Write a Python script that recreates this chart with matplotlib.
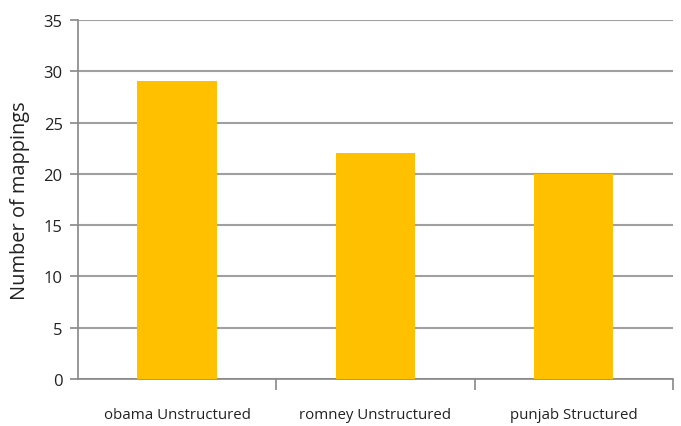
import matplotlib.pyplot as plt
import numpy as np

categories = ["obama Unstructured", "romney Unstructured", "punjab Structured"]
mappings = [29, 22, 20]
y_ticks = [0, 5, 10, 15, 20, 25, 30, 35]

plt.rcParams["font.family"] = ["Open Sans", "DejaVu Sans"]

fig = plt.figure(figsize=(6.81, 4.27), dpi=100)
ax = fig.add_axes([0.1145, 0.110, 0.8735, 0.841])

x = np.arange(len(categories))
ax.bar(x, mappings, width=0.4, color="#FFC000", zorder=3)

ax.set_xlim(-0.5, len(categories) - 0.5)
ax.set_ylim(0, 35)
ax.set_yticks(y_ticks)
ax.yaxis.grid(True, color="#A0A0A0", linewidth=1.5, zorder=0)

# category labels centred, tick marks at the category boundaries
ax.set_xticks(x)
ax.set_xticklabels(categories, fontsize=10.8, color="#222222")
ax.tick_params(axis="x", length=0, pad=20)
ax.set_xticks(np.arange(len(categories)) + 0.5, minor=True)
ax.tick_params(axis="x", which="minor", length=8, color="#888888", width=1.2)

ax.tick_params(axis="y", length=6, color="#888888", width=1.2, labelsize=12,
               labelcolor="#222222", pad=5)

for side in ["top", "right"]:
    ax.spines[side].set_visible(False)
for side in ["left", "bottom"]:
    ax.spines[side].set_color("#888888")
    ax.spines[side].set_linewidth(1.2)

ax.set_ylabel("Number of mappings", fontsize=14.4, color="#222222", labelpad=10)

fig.savefig("out.png", dpi=100)
